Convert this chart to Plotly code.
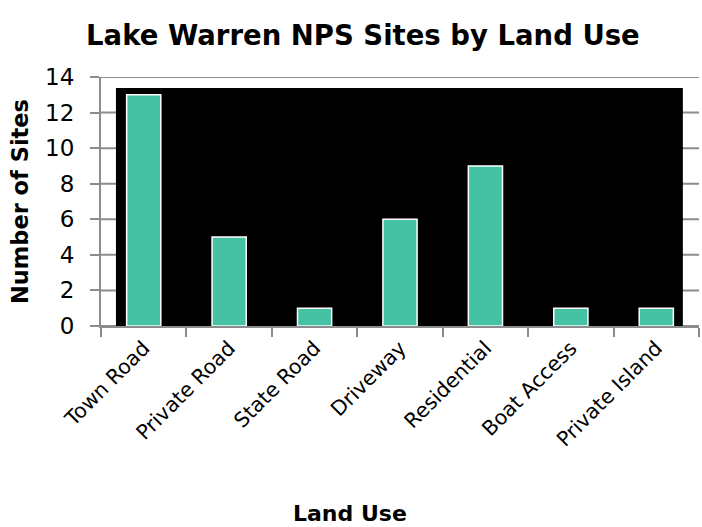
import plotly.graph_objects as go

categories = ["Town Road", "Private Road", "State Road", "Driveway", "Residential", "Boat Access", "Private Island"]
site_counts = [13, 5, 1, 6, 9, 1, 1]
y_ticks = [0, 2, 4, 6, 8, 10, 12, 14]

FONT = "DejaVu Sans"
GRAY = "#8c8c8c"

fig = go.Figure(go.Bar(
    x=categories, y=site_counts,
    marker=dict(color="#45c2a4", line=dict(color="white", width=1.5)),
))

# gridlines (drawn as shapes so the black panel can cover them)
for v in y_ticks:
    fig.add_shape(type="line", xref="x domain", yref="y", x0=0, x1=1, y0=v, y1=v,
                  line=dict(color=GRAY, width=2), layer="below")
fig.add_shape(type="rect", xref="x domain", yref="y", x0=0.025, x1=0.973, y0=0, y1=13.38,
              fillcolor="black", line=dict(width=0), layer="below")

fig.add_annotation(text="<b>Land Use</b>", xref="paper", yref="paper", x=0.4164, y=-0.755,
                   xanchor="center", yanchor="middle", showarrow=False,
                   font=dict(size=22, family=FONT, color="black"))

fig.update_layout(
    width=702, height=527,
    margin=dict(l=101, r=3, t=77, b=201, autoexpand=False),
    paper_bgcolor="white", plot_bgcolor="white",
    bargap=0.6,
    showlegend=False,
    title=dict(text="<b>Lake Warren NPS Sites by Land Use</b>", x=0.517, xanchor="center",
               y=0.932, yanchor="middle", font=dict(family=FONT, size=27.5, color="black")),
    font=dict(family=FONT, color="black"),
)
fig.update_xaxes(
    tickangle=-45, tickfont=dict(size=20.5, family=FONT), tickson="boundaries",
    ticks="outside", ticklen=9, tickwidth=2, tickcolor=GRAY,
    showline=True, linecolor=GRAY, linewidth=2,
    showgrid=False,
)
fig.update_yaxes(
    range=[0, 14], tickvals=y_ticks, tickfont=dict(size=23, family=FONT),
    ticks="outside", ticklen=9, tickwidth=2, tickcolor=GRAY, ticklabelstandoff=11,
    showline=True, linecolor=GRAY, linewidth=2,
    showgrid=False, zeroline=False,
    title=dict(text="<b>Number of Sites</b>", font=dict(size=22.5, family=FONT), standoff=10),
)

fig.write_html("out.html", config={"displayModeBar": False},
               post_script="document.body.style.margin='0';")
